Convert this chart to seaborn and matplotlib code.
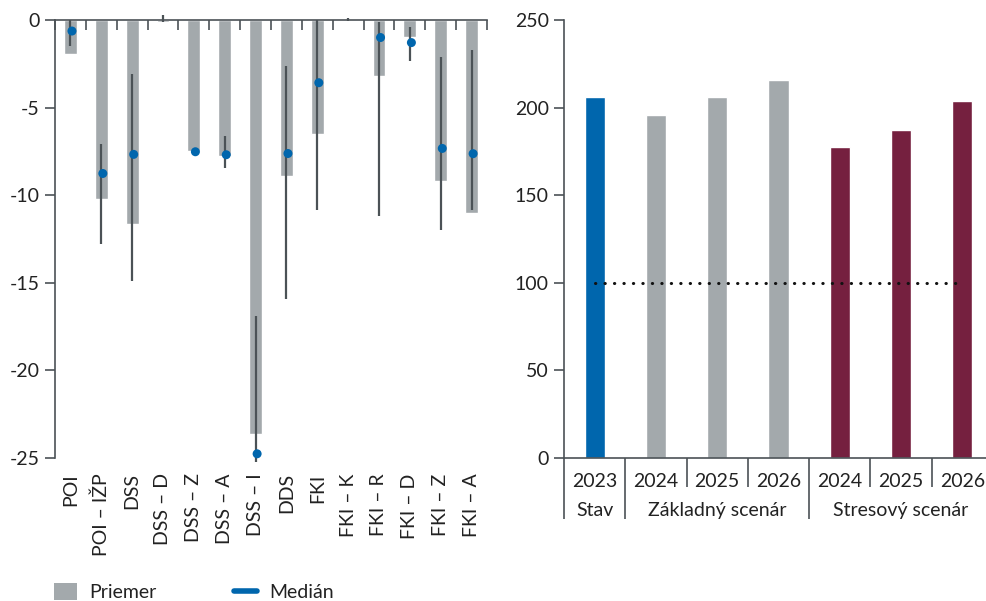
import numpy as np
import pandas as pd
import matplotlib
matplotlib.use("Agg")
import matplotlib.pyplot as plt
import seaborn as sns
from matplotlib.patches import Patch
from matplotlib.lines import Line2D

# ľavý graf - zmena hodnoty podľa typu fondu
categories = ["POI", "POI – IŽP", "DSS", "DSS – D", "DSS – Z", "DSS – A", "DSS – I",
              "DDS", "FKI", "FKI – K", "FKI – R", "FKI – D", "FKI – Z", "FKI – A"]
mean = [-1.96, -10.2, -11.65, -0.11, -7.48, -7.77, -23.63, -8.91, -6.53, -0.02, -3.2, -0.97, -9.2, -11.0]
median = [-0.63, -8.76, -7.67, np.nan, -7.52, -7.69, -24.76, -7.62, -3.58, np.nan, -1.0, -1.29, -7.33, -7.63]
range_lo = [-1.5, -12.8, -14.9, -0.1, -7.55, -8.43, -25.2, -15.9, -10.87, -0.05, -11.2, -2.34, -12.0, -10.87]
range_hi = [0.0, -7.05, -3.1, 0.27, -7.45, -6.63, -16.87, -2.63, 0.0, 0.1, -0.1, -0.38, -2.1, -1.71]

# pravý graf - scenáre
years = ["2023", "2024", "2025", "2026", "2024", "2025", "2026"]
scenarios = ["Stav", "Základný scenár", "Základný scenár", "Základný scenár",
             "Stresový scenár", "Stresový scenár", "Stresový scenár"]
values = [206, 196, 206, 216, 177.5, 187, 204]
threshold = 100

GREY = "#a3a9ac"
BLUE = "#0066ad"
MAROON = "#75203f"
DARK = "#4b5256"
TXT = "#222222"

sns.set_style("white")
plt.rcParams["font.family"] = ["Lato", "DejaVu Sans"]
plt.rcParams["font.size"] = 14
plt.rcParams["text.color"] = TXT
plt.rcParams["xtick.color"] = TXT
plt.rcParams["ytick.color"] = TXT
plt.rcParams["xtick.labelcolor"] = TXT
plt.rcParams["ytick.labelcolor"] = TXT

fig = plt.figure(figsize=(9.86, 6.01), dpi=100)
ax1 = fig.add_axes([55 / 986, 1 - 458 / 601, 432 / 986, 438 / 601])
ax2 = fig.add_axes([564 / 986, 1 - 458 / 601, 429 / 986, 438 / 601])

# --- ľavý ---
df1 = pd.DataFrame({"cat": categories, "mean": mean, "median": median})
sns.barplot(data=df1, x="cat", y="mean", color=GREY, width=0.42, saturation=1, ax=ax1)
pos = np.arange(len(categories))
ax1.vlines(pos, range_lo, range_hi, color=DARK, lw=1.6, zorder=3, clip_on=False)
ax1.scatter(pos + 0.05, median, s=42, color=BLUE, zorder=4, clip_on=False, edgecolors="none")

ax1.set_ylim(-25, 0)
ax1.set_xlim(-0.5, len(categories) - 0.5)
ax1.set_yticks([0, -5, -10, -15, -20, -25])
ax1.set_yticklabels(["0", "-5", "-10", "-15", "-20", "-25"])
ax1.set_xlabel("")
ax1.set_ylabel("")
for s in ["right", "bottom"]:
    ax1.spines[s].set_visible(False)
for s in ["left", "top"]:
    ax1.spines[s].set_color(DARK)
    ax1.spines[s].set_linewidth(1.2)
ax1.tick_params(axis="y", left=True, direction="out", length=7, width=1.2, color=DARK, pad=4)
ax1.set_xticks(pos)
ax1.set_xticklabels(categories, rotation=90)
ax1.tick_params(axis="x", which="major", bottom=False, top=False, length=0, pad=11)
ax1.set_xticks(np.arange(-0.5, len(categories)), minor=True)
ax1.tick_params(axis="x", which="minor", top=True, bottom=False, direction="in",
                length=7, width=1.2, color=DARK)

# --- pravý ---
df2 = pd.DataFrame({"key": [f"{s} {y}" for s, y in zip(scenarios, years)],
                    "scen": scenarios, "val": values})
sns.barplot(data=df2, x="key", y="val", hue="scen", dodge=False, width=0.33, saturation=1,
            palette={"Stav": BLUE, "Základný scenár": GREY, "Stresový scenár": MAROON},
            legend=False, ax=ax2)
ax2.plot(np.arange(len(values)), [threshold] * len(values), color="#111111", lw=2.2,
         ls=(0, (0.1, 3.0)), dash_capstyle="round", zorder=5)
ax2.set_ylim(0, 250)
ax2.set_xlim(-0.5, len(values) - 0.5)
ax2.set_yticks([0, 50, 100, 150, 200, 250])
ax2.set_xlabel("")
ax2.set_ylabel("")
for s in ["right", "top"]:
    ax2.spines[s].set_visible(False)
for s in ["left", "bottom"]:
    ax2.spines[s].set_color(DARK)
    ax2.spines[s].set_linewidth(1.2)
ax2.tick_params(axis="y", left=True, direction="out", length=7, width=1.2, color=DARK, pad=4)

group_bounds = [-0.5, 0.5, 3.5]
inner_bounds = [1.5, 2.5, 4.5, 5.5]
ax2.set_xticks(group_bounds)
ax2.set_xticklabels([])
ax2.tick_params(axis="x", which="major", bottom=True, direction="out", length=44, width=1.2, color=DARK)
ax2.set_xticks(inner_bounds, minor=True)
ax2.tick_params(axis="x", which="minor", bottom=True, direction="out", length=21, width=1.2, color=DARK)

for i, y in enumerate(years):
    ax2.annotate(y, xy=(i, 0), xycoords=("data", "axes fraction"), xytext=(0, -17),
                 textcoords="offset points", ha="center", va="center")
group_centers = {"Stav": 0, "Základný scenár": 2, "Stresový scenár": 5}
for name, c in group_centers.items():
    ax2.annotate(name, xy=(c, 0), xycoords=("data", "axes fraction"), xytext=(0, -38),
                 textcoords="offset points", ha="center", va="center")

# legenda
handles = [Patch(facecolor=GREY, edgecolor="none"),
           Line2D([0], [0], color=BLUE, lw=4, solid_capstyle="round")]
fig.legend(handles, ["Priemer", "Medián"], loc="center left", ncol=2,
           bbox_to_anchor=(54 / 986, 1 - 592 / 601), frameon=False,
           handlelength=1.2, handleheight=1.0, handletextpad=0.6, columnspacing=4.0,
           borderpad=0, borderaxespad=0)

fig.savefig("out.png", dpi=100)
